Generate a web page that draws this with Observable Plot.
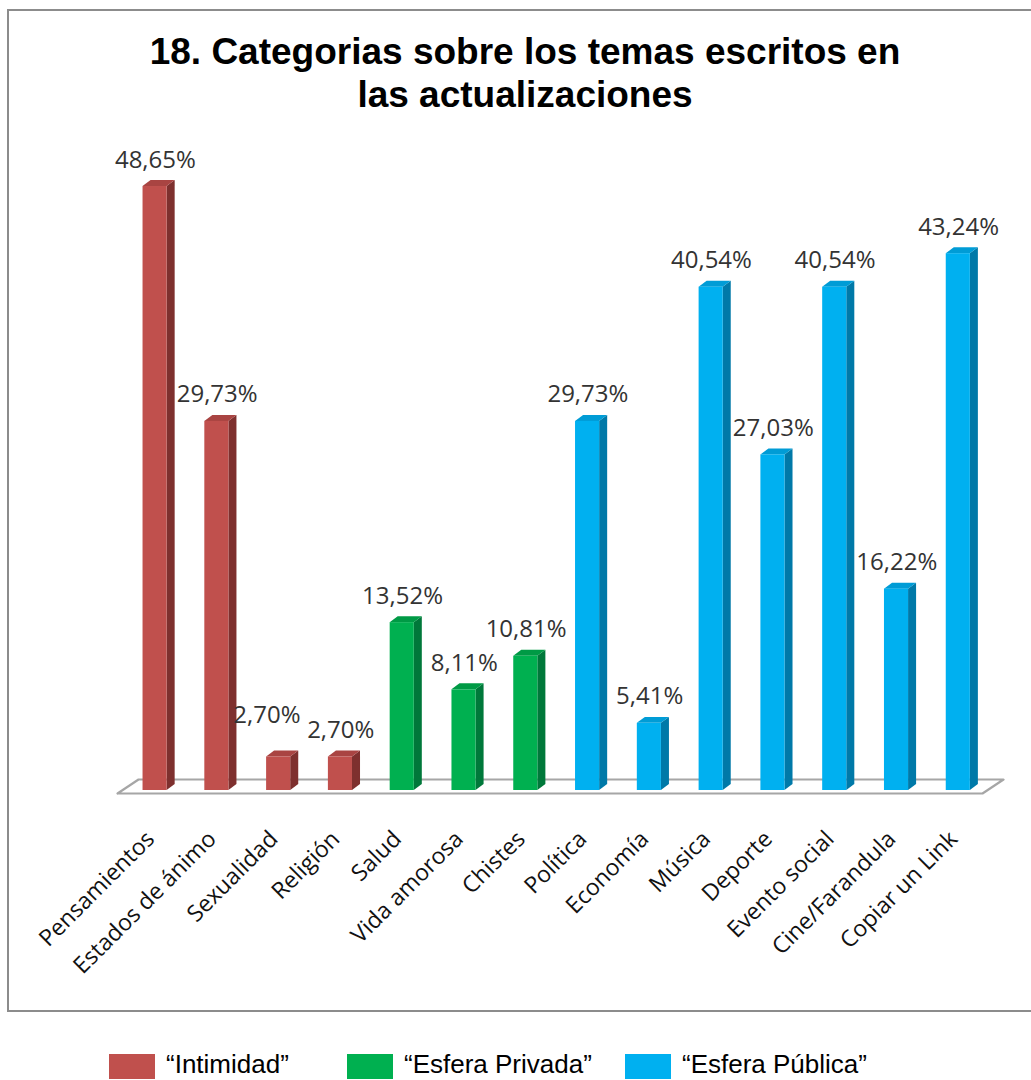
<!DOCTYPE html>
<html>
<head>
<meta charset="utf-8">
<script src="https://cdn.jsdelivr.net/npm/d3@7"></script>
<script src="https://cdn.jsdelivr.net/npm/@observablehq/plot@0.6"></script>
<style>
  html, body { margin: 0; padding: 0; background: #fff; overflow: hidden; }
  #page { position: relative; width: 1031px; height: 1080px; overflow: hidden; background: #fff; }
  #chart { position: absolute; left: 0; top: 0; }
  #frame { position: absolute; left: 7px; top: 9px; width: 1040px; height: 999px; border: 2px solid #8c8c8c; pointer-events: none; }
  #title { position: absolute; left: 0; top: 30px; width: 1050px; text-align: center; font: bold 37px/43px "Liberation Sans", Arial, sans-serif; color: #000; }
  .lg-sw { position: absolute; top: 1054px; width: 46px; height: 25px; }
  .lg-tx { position: absolute; top: 1049px; font: 26px/30px "Liberation Sans", Arial, sans-serif; color: #000; white-space: nowrap; }
</style>
</head>
<body>
<div id="page">
  <div id="chart"></div>
  <div id="frame"></div>
  <div id="title">18. Categorias sobre los temas escritos en<br>las actualizaciones</div>
  <div id="legend"></div>
</div>
<script>
// ---- data ----
const categories = ["Pensamientos", "Estados de ánimo", "Sexualidad", "Religión", "Salud", "Vida amorosa", "Chistes",
  "Política", "Economía", "Música", "Deporte", "Evento social", "Cine/Farandula", "Copiar un Link"];
const values = [48.65, 29.73, 2.70, 2.70, 13.52, 8.11, 10.81, 29.73, 5.41, 40.54, 27.03, 40.54, 16.22, 43.24];
const groups = ["Intimidad", "Intimidad", "Intimidad", "Intimidad", "Esfera Privada", "Esfera Privada", "Esfera Privada",
  "Esfera Pública", "Esfera Pública", "Esfera Pública", "Esfera Pública", "Esfera Pública", "Esfera Pública", "Esfera Pública"];
const groupNames = ["Intimidad", "Esfera Privada", "Esfera Pública"];
const frontColors = ["#C0504D", "#00B050", "#00B0F0"];
const sideColors = ["#7E302E", "#00783A", "#0079A8"];
const topColors = ["#A94442", "#009A45", "#009CD6"];

// ---- geometry (in scale units) ----
const FL = -0.2, FR = 0.19;   // front face left/right offsets from category center
const DX = 0.13, DY = 0.48;   // 3D depth offsets
const gi = g => groupNames.indexOf(g);

const rows = categories.map((c, i) => ({i, c, v: values[i], g: groups[i]}));
const sideData = rows.flatMap(d => [
  {i: d.i, x: d.i + FR, y1: 0, y2: d.v, f: sideColors[gi(d.g)]},
  {i: d.i, x: d.i + FR + DX, y1: DY, y2: d.v + DY, f: sideColors[gi(d.g)]}
]);
const topData = rows.flatMap(d => [
  {i: d.i, y: d.v, x1: d.i + FL, x2: d.i + FR, f: topColors[gi(d.g)]},
  {i: d.i, y: d.v + DY, x1: d.i + FL + DX, x2: d.i + FR + DX, f: topColors[gi(d.g)]}
]);
const xDomain = [-0.5, categories.length - 0.5];
const floorShift = -0.113, floorDX = 0.34, floorFront = -0.24, floorBack = 0.886;
const floorPts = [
  {x: xDomain[0] + floorShift, y: floorFront},
  {x: xDomain[1] + floorShift, y: floorFront},
  {x: xDomain[1] + floorShift + floorDX, y: floorBack},
  {x: xDomain[0] + floorShift + floorDX, y: floorBack},
  {x: xDomain[0] + floorShift, y: floorFront}
];
const fmt = v => v.toFixed(2).replace(".", ",") + "%";

const chart = Plot.plot({
  width: 1031,
  height: 1012,
  margin: 0,
  style: {background: "transparent", overflow: "visible"},
  x: {domain: xDomain, range: [124, 989], axis: null},
  y: {domain: [0, 50], range: [790, 169.25], axis: null},
  color: {type: "identity"},
  marks: [
    Plot.line(floorPts, {x: "x", y: "y", stroke: "#a6a6a6", strokeWidth: 2.2, fill: "white"}),
    Plot.areaY(sideData, {x: "x", y1: "y1", y2: "y2", z: "i", fill: "f"}),
    Plot.areaX(topData, {y: "y", x1: "x1", x2: "x2", z: "i", fill: "f"}),
    Plot.rect(rows, {x1: d => d.i + FL, x2: d => d.i + FR, y1: () => 0, y2: "v", fill: d => frontColors[gi(d.g)]}),
    Plot.text(rows.filter(d => d.c !== "Sexualidad"), {
      x: "i", y: "v", text: d => fmt(d.v), dy: -19, lineAnchor: "bottom",
      fontSize: 24, fontFamily: "Open Sans", fill: "#333"
    }),
    Plot.text(rows.filter(d => d.c === "Sexualidad"), {
      x: "i", y: "v", text: d => fmt(d.v), dx: -12, dy: -34, lineAnchor: "bottom",
      fontSize: 24, fontFamily: "Open Sans", fill: "#333"
    }),
    Plot.text(rows, {
      x: d => d.i - 0.08, y: () => -3.6, text: "c", rotate: -45, textAnchor: "end",
      fontSize: 23, fontFamily: "Open Sans", fill: "#111"
    })
  ]
});
document.getElementById("chart").appendChild(chart);

// ---- legend ----
const legend = document.getElementById("legend");
const swX = [109, 347, 625];
groupNames.forEach((g, k) => {
  const sw = document.createElement("div");
  sw.className = "lg-sw";
  sw.style.left = swX[k] + "px";
  sw.style.background = frontColors[k];
  legend.appendChild(sw);
  const tx = document.createElement("div");
  tx.className = "lg-tx";
  tx.style.left = (swX[k] + 57) + "px";
  tx.textContent = "\u201C" + g + "\u201D";
  legend.appendChild(tx);
});
</script>
</body>
</html>
